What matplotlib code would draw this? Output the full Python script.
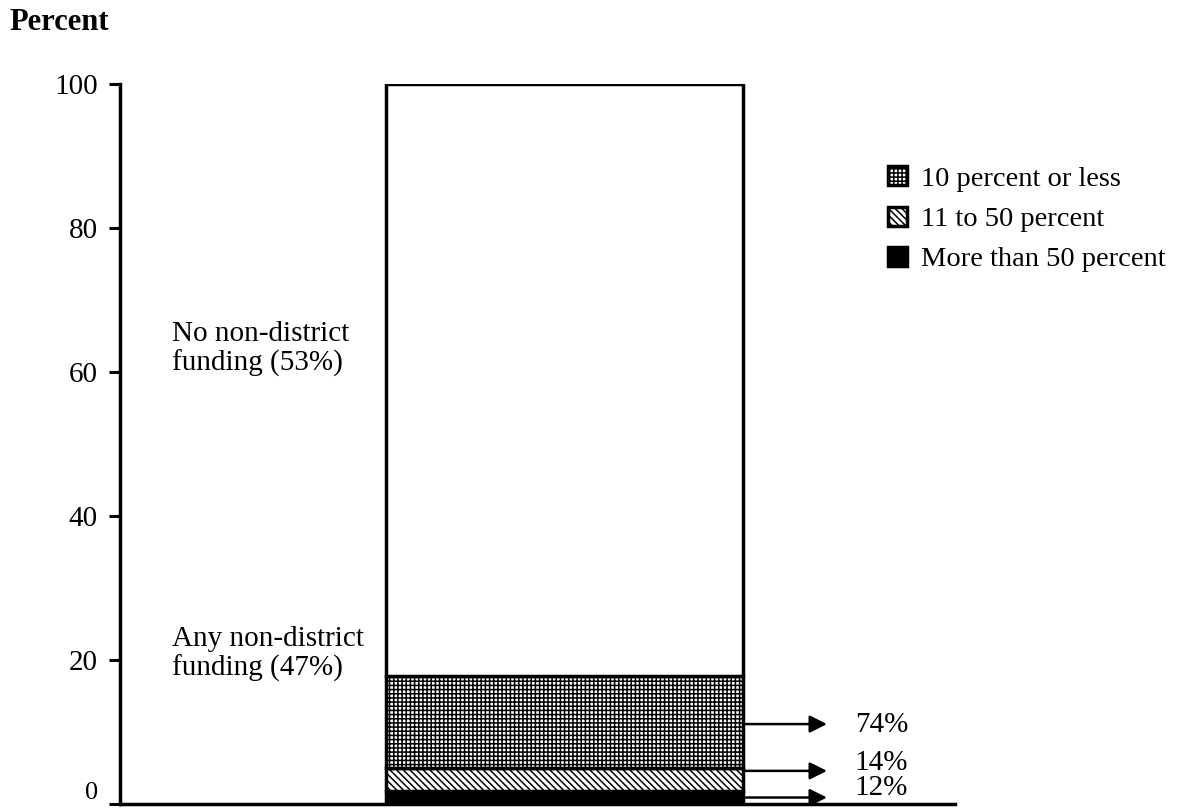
import matplotlib.pyplot as plt

plt.rcParams['font.family'] = ['Liberation Serif', 'DejaVu Serif']
plt.rcParams['hatch.linewidth'] = 1.1

# segment heights (bottom to top)
segments = ["More than 50 percent", "11 to 50 percent", "10 percent or less", "none"]
heights = [1.8, 3.2, 12.8, 82.2]
hatches = [None, "\\\\\\\\\\", "++++", None]
colors = ["black", "white", "white", "white"]

share_labels = ["74%", "14%", "12%"]
share_y = [11.1, 4.6, 0.9]    # where the arrows point from
text_y = [11.0, 5.7, 2.2]

fig = plt.figure(figsize=(11.86, 8.10), dpi=100)
ax = fig.add_axes([120 / 1186, 1 - 804 / 810, 835 / 1186, 720 / 810])

bar_x = 0.532
bar_w = 0.4275
bottom = 0
for name, h, hat, c in zip(segments, heights, hatches, colors):
    ax.bar(bar_x, h, width=bar_w, bottom=bottom, color=c, hatch=hat,
           edgecolor="black", linewidth=2.5, label=name if name != "none" else None)
    bottom += h

# arrows to the right
for lab, ya, yt in zip(share_labels, share_y, text_y):
    ax.annotate("", xy=(0.85, ya), xytext=(bar_x + bar_w / 2, ya),
                arrowprops=dict(arrowstyle="-|>", color="black", lw=1.8,
                                mutation_scale=26), annotation_clip=False)
    ax.text(0.88, yt, lab, fontsize=21, va="center", ha="left", clip_on=False)

ax.text(0.062, 63.2, "No non-district\nfunding (53%)", fontsize=21, va="center",
        ha="left", linespacing=1.15)
ax.text(0.062, 20.8, "Any non-district\nfunding (47%)", fontsize=21, va="center",
        ha="left", linespacing=1.15)

ax.set_xlim(0, 1)
ax.set_ylim(0, 100)
ax.set_yticks([0, 20, 40, 60, 80, 100])
ax.tick_params(axis="y", direction="out", length=8, width=2.2, labelsize=21, pad=8)
ax.set_xticks([])
for s in ["top", "right"]:
    ax.spines[s].set_visible(False)
ax.spines["left"].set_linewidth(2.5)
ax.spines["bottom"].set_linewidth(2.5)

# the "0" label sits right on the bottom edge; keep it inside the picture
ax.get_yticklabels()[0].set_verticalalignment("bottom")
ax.get_yticklabels()[0].set_fontsize(19)

fig.text(9 / 1186, 1 - 22 / 810, "Percent", fontsize=22, fontweight="bold",
         va="center", ha="left")

handles, labels = ax.get_legend_handles_labels()
fig.legend(handles[::-1], labels[::-1], loc="upper left",
           bbox_to_anchor=(874 / 1186, 1 - 152 / 810), frameon=False,
           fontsize=20.5, handlelength=0.65, handleheight=0.65, handletextpad=0.5,
           labelspacing=0.52, borderpad=0)

fig.savefig("out.png", dpi=100)
